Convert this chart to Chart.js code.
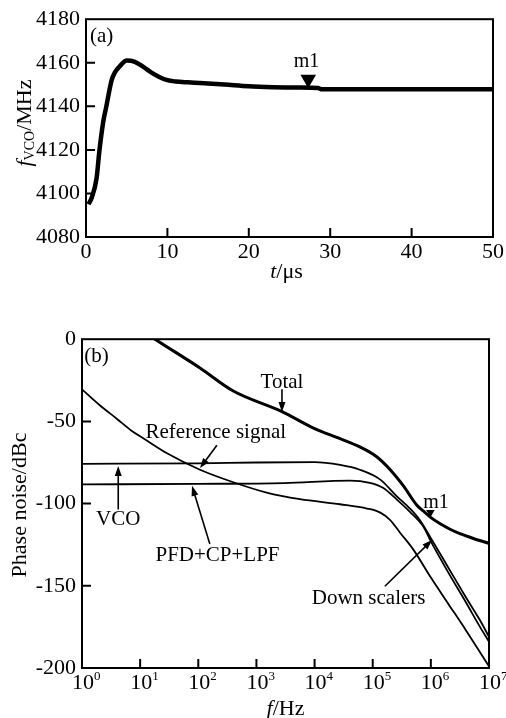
<!DOCTYPE html>
<html lang="en">
<head>
<meta charset="UTF-8" />
<title>VCO settling and phase noise</title>
<script src="https://cdn.jsdelivr.net/npm/chart.js"></script>
<style>
  body { margin: 0; background: #fff; width: 506px; height: 718px; overflow: hidden; position: relative; }
  .box { position: absolute; left: 0; width: 506px; }
  #topBox { top: 0; height: 300px; }
  #botBox { top: 320px; height: 398px; }
</style>
</head>
<body>
<div class="box" id="topBox"><canvas id="settleChart"></canvas></div>
<div class="box" id="botBox"><canvas id="noiseChart"></canvas></div>
<script>
// (a) settling of the VCO frequency
const T_US  = [0.3, 0.7, 1.3, 1.63, 2.1, 2.5, 3.15, 3.55, 4.2, 5.0, 6.0, 7.0, 8.0, 9.0, 10.0, 11.0, 12.5, 14, 17, 20, 23, 26, 28.5, 29, 50];
const F_VCO = [4095, 4098, 4107, 4119, 4132.5, 4140, 4152, 4155.6, 4158.6, 4161, 4160.4, 4158.2, 4155.6, 4153.5, 4152, 4151.4, 4151, 4150.7, 4150, 4149.2, 4148.8, 4148.6, 4148.4, 4147.8, 4147.8];
const M1_TOP = { x: 27.3, y: 4152.4 };

// (b) phase noise contributions
const TOTAL_F  = [10, 18, 107, 400, 2700, 10000, 27500, 60000, 117000, 200000, 340000, 575000, 741000, 977000, 1.45e6, 2.14e6, 3.16e6, 5.4e6, 1e7];
const TOTAL_DB = [6, 0, -17.5, -31.5, -43.9, -54.4, -60.5, -65.5, -71.5, -79.4, -89.4, -101, -104.5, -108.2, -112.3, -115.6, -118.3, -121.2, -124.2];
const REF_F  = [1, 2, 4, 7, 11.5, 29, 107, 400, 1500, 5600, 27500, 80000, 135000, 200000, 300000, 500000, 1e6, 2e6, 4e6, 1e7];
const REF_DB = [-30.5, -40, -48.5, -55.5, -60.4, -69.4, -79.4, -87, -93.3, -97.3, -100.4, -103, -105.5, -110, -118, -128, -145, -161, -177, -199];
const VCO_F  = [1, 100, 1000, 10000, 27500, 60000, 135000, 257000, 436000, 645000, 1e6, 2e6, 4e6, 7e6, 1e7];
const VCO_DB = [-75.8, -75.5, -75, -74.8, -76.5, -79.4, -85.4, -95.4, -103, -110, -121, -139, -157, -171, -181];
const PFD_F  = [1, 100, 3000, 41000, 89000, 150000, 257000, 436000, 741000, 1e6, 2e6, 4e6, 7e6, 1e7];
const PFD_DB = [-88.3, -88, -87.5, -86, -87.4, -90.4, -97.4, -105, -114, -123, -142, -160, -175, -184];
const M1_BOT = { x: 9.8e5, y: -105.4 };
const X_DECADES = [1, 10, 100, 1e3, 1e4, 1e5, 1e6, 1e7];

const SERIF = "'Liberation Serif', 'Times New Roman', serif";
Chart.defaults.font.family = SERIF;
Chart.defaults.font.size = 22;
Chart.defaults.color = '#000';

function pts(xs, ys) { return xs.map((x, i) => ({ x: x, y: ys[i] })); }

function drawRich(ctx, parts, cx, cy, rotate, align) {
  ctx.save();
  ctx.translate(cx, cy);
  if (rotate) ctx.rotate(-Math.PI / 2);
  let w = 0;
  parts.forEach(p => { ctx.font = p.font; p.w = ctx.measureText(p.t).width; w += p.w; });
  let x = align === 'first' ? -parts[0].w / 2 : -w / 2;
  ctx.textBaseline = 'middle';
  ctx.textAlign = 'left';
  ctx.fillStyle = '#000';
  parts.forEach(p => { ctx.font = p.font; ctx.fillText(p.t, x, p.dy || 0); x += p.w; });
  ctx.restore();
}

function drawArrow(ctx, x1, y1, x2, y2) {
  const ang = Math.atan2(y2 - y1, x2 - x1);
  const len = 10, half = 3.5;
  ctx.beginPath();
  ctx.moveTo(x1, y1);
  ctx.lineTo(x2 - Math.cos(ang) * len * 0.8, y2 - Math.sin(ang) * len * 0.8);
  ctx.stroke();
  ctx.beginPath();
  ctx.moveTo(x2, y2);
  ctx.lineTo(x2 - Math.cos(ang) * len - Math.sin(ang) * half, y2 - Math.sin(ang) * len + Math.cos(ang) * half);
  ctx.lineTo(x2 - Math.cos(ang) * len + Math.sin(ang) * half, y2 - Math.sin(ang) * len - Math.cos(ang) * half);
  ctx.closePath();
  ctx.fill();
}

// box around the plot and inward ticks
const framePlugin = {
  id: 'frame',
  afterDatasetsDraw(chart) {
    const { ctx, chartArea: a, scales } = chart;
    ctx.save();
    ctx.strokeStyle = '#000';
    ctx.lineWidth = 2;
    ctx.strokeRect(a.left, a.top, a.right - a.left, a.bottom - a.top);
    ctx.beginPath();
    scales.x.ticks.forEach(t => {
      const px = scales.x.getPixelForValue(t.value);
      if (px <= a.left + 1 || px >= a.right - 1) return;
      ctx.moveTo(px, a.bottom);
      ctx.lineTo(px, a.bottom - 9);
    });
    scales.y.ticks.forEach(t => {
      const py = scales.y.getPixelForValue(t.value);
      if (py <= a.top + 1 || py >= a.bottom - 1) return;
      ctx.moveTo(a.left, py);
      ctx.lineTo(a.left + 9, py);
    });
    ctx.stroke();
    ctx.restore();
  }
};

const topNotes = {
  id: 'topNotes',
  afterDraw(chart) {
    const { ctx, chartArea: a, scales: s } = chart;
    ctx.save();
    ctx.fillStyle = '#000';
    ctx.textAlign = 'center';
    ctx.textBaseline = 'middle';
    ctx.font = '21px ' + SERIF;
    ctx.fillText('(a)', s.x.getPixelForValue(1.92), s.y.getPixelForValue(4172.1));
    ctx.font = '20px ' + SERIF;
    ctx.fillText('m1', s.x.getPixelForValue(27.1), s.y.getPixelForValue(4160.6));
    ctx.restore();
    drawRich(ctx, [
      { t: 'f', font: 'italic 22px ' + SERIF },
      { t: 'VCO', font: '14px ' + SERIF, dy: 5 },
      { t: '/MHz', font: '22px ' + SERIF }
    ], 25, 123, true);
    drawRich(ctx, [
      { t: 't', font: 'italic 22px ' + SERIF },
      { t: '/\u03bcs', font: '22px ' + SERIF }
    ], (a.left + a.right) / 2 - 3, a.bottom + 35, false);
  }
};

const NOTE_TEXT = [
  { t: '(b)', x: 1.78, y: -10.6 },
  { t: 'Total', x: 2750, y: -26.3 },
  { t: 'Reference signal', x: 200, y: -56.5 },
  { t: 'VCO', x: 4.2, y: -109.4 },
  { t: 'PFD+CP+LPF', x: 214, y: -131.3 },
  { t: 'Down scalers', x: 85000, y: -157.7 }
];
const NOTE_ARROWS = [
  [2750, -30.5, 2750, -44.3],
  [209, -64.5, 107, -78.4],
  [4.2, -103.6, 4.2, -77.2],
  [158, -124.6, 78, -89.2],
  [162000, -150.3, 1.05e6, -122.2]
];

const botNotes = {
  id: 'botNotes',
  afterDraw(chart) {
    const { ctx, chartArea: a, scales: s } = chart;
    ctx.save();
    ctx.fillStyle = '#000';
    ctx.strokeStyle = '#000';
    ctx.lineWidth = 1.6;
    ctx.textAlign = 'center';
    ctx.textBaseline = 'middle';
    ctx.font = '21px ' + SERIF;
    NOTE_TEXT.forEach(n => ctx.fillText(n.t, s.x.getPixelForValue(n.x), s.y.getPixelForValue(n.y)));
    ctx.font = '20px ' + SERIF;
    ctx.fillText('m1', s.x.getPixelForValue(1.23e6), s.y.getPixelForValue(-99.4));
    NOTE_ARROWS.forEach(r => drawArrow(ctx,
      s.x.getPixelForValue(r[0]), s.y.getPixelForValue(r[1]),
      s.x.getPixelForValue(r[2]), s.y.getPixelForValue(r[3])));
    ctx.restore();
    // decade labels 10^n with a raised exponent
    X_DECADES.forEach(v => {
      drawRich(ctx, [
        { t: '10', font: '22px ' + SERIF },
        { t: String(Math.round(Math.log10(v))), font: '13px ' + SERIF, dy: -6 }
      ], s.x.getPixelForValue(v) + 1, a.bottom + 15, false, 'first');
    });
    drawRich(ctx, [{ t: 'Phase noise/dBc', font: '22px ' + SERIF }], 20, 185, true);
    drawRich(ctx, [
      { t: 'f', font: 'italic 22px ' + SERIF },
      { t: '/Hz', font: '22px ' + SERIF }
    ], (a.left + a.right) / 2, a.bottom + 41, false);
  }
};

function line(data, width) {
  return {
    data: data, borderColor: '#000', borderWidth: width, pointRadius: 0,
    cubicInterpolationMode: 'monotone', fill: false
  };
}

const plain = (v) => String(v);

new Chart(document.getElementById('settleChart'), {
  type: 'line',
  data: {
    datasets: [
      line(pts(T_US, F_VCO), 4.5),
      { data: [M1_TOP], showLine: false, pointStyle: 'triangle', rotation: 180,
        pointRadius: 9, backgroundColor: '#000', borderColor: '#000', borderWidth: 0 }
    ]
  },
  options: {
    responsive: true, maintainAspectRatio: false, animation: false,
    layout: { padding: { top: 14, right: 12, left: 0, bottom: 0 } },
    plugins: { legend: { display: false }, tooltip: { enabled: false } },
    scales: {
      x: {
        type: 'linear', min: 0, max: 50,
        ticks: { stepSize: 10, padding: 2, maxRotation: 0, callback: plain },
        grid: { display: false, drawTicks: false }, border: { display: false },
        afterFit(sc) { sc.height = 63; }
      },
      y: {
        min: 4080, max: 4180,
        ticks: { stepSize: 20, padding: 6, callback: plain },
        grid: { display: false, drawTicks: false }, border: { display: false },
        afterFit(sc) { sc.width = 86; }
      }
    }
  },
  plugins: [framePlugin, topNotes]
});

new Chart(document.getElementById('noiseChart'), {
  type: 'line',
  data: {
    datasets: [
      line(pts(TOTAL_F, TOTAL_DB), 3),
      line(pts(REF_F, REF_DB), 1.8),
      line(pts(VCO_F, VCO_DB), 1.8),
      line(pts(PFD_F, PFD_DB), 1.8),
      { data: [M1_BOT], showLine: false, pointStyle: 'triangle', rotation: 180,
        pointRadius: 5, backgroundColor: '#000', borderColor: '#000', borderWidth: 0 }
    ]
  },
  options: {
    responsive: true, maintainAspectRatio: false, animation: false,
    layout: { padding: { top: 14, right: 17, left: 0, bottom: 0 } },
    plugins: { legend: { display: false }, tooltip: { enabled: false } },
    scales: {
      x: {
        type: 'logarithmic', min: 1, max: 1e7,
        afterBuildTicks(sc) { sc.ticks = X_DECADES.map(v => ({ value: v })); },
        ticks: { display: false },
        grid: { display: false, drawTicks: false }, border: { display: false },
        afterFit(sc) { sc.height = 50; }
      },
      y: {
        min: -200, max: 0,
        ticks: { stepSize: 50, padding: 6, callback: plain },
        grid: { display: false, drawTicks: false }, border: { display: false },
        afterFit(sc) { sc.width = 82; }
      }
    }
  },
  plugins: [framePlugin, botNotes]
});
</script>
</body>
</html>
